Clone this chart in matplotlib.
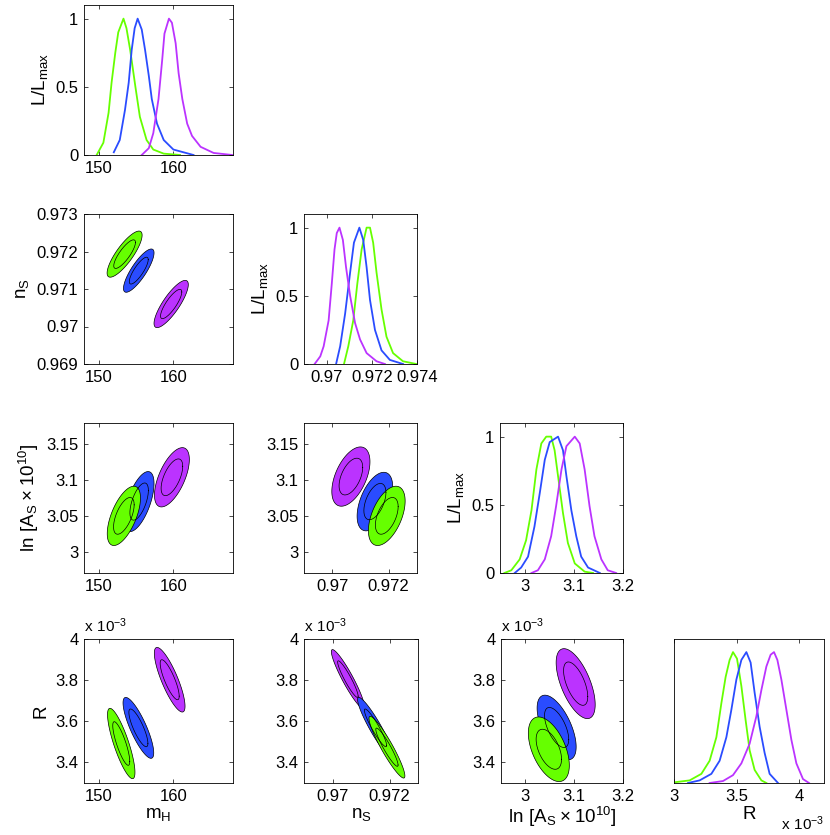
import numpy as np
import matplotlib
matplotlib.use('Agg')
import matplotlib.pyplot as plt
from matplotlib.ticker import FuncFormatter

plt.rcParams['font.family'] = ['Liberation Sans', 'DejaVu Sans']
plt.rcParams['font.size'] = 12
plt.rcParams['axes.labelsize'] = 13.5

# colours of the three models
colors = {'green': '#66ff00', 'blue': '#2a4cff', 'magenta': '#bb33ff'}
draw_order = ['magenta', 'blue', 'green']

# ---- 1D profiles (L/Lmax) ----
mh_x = {
    'green': [149.7, 150.6, 151.3, 151.7, 152.2, 152.6, 153.3, 153.7, 154.2, 154.9, 155.5, 156.4, 157.3, 158.7, 160.9],
    'blue': [152.0, 152.8, 153.5, 154.0, 154.4, 154.8, 155.2, 155.75, 156.2, 156.7, 157.1, 157.8, 158.7, 160.0, 162.7],
    'magenta': [155.75, 156.7, 157.3, 158.0, 158.5, 158.8, 159.4, 159.8, 160.3, 160.7, 161.2, 161.85, 162.5, 163.65, 165.4, 167.9],
}
mh_y = {
    'green': [0, 0.09, 0.31, 0.53, 0.75, 0.90, 1.0, 0.93, 0.77, 0.50, 0.28, 0.11, 0.04, 0.01, 0],
    'blue': [0.02, 0.11, 0.33, 0.53, 0.77, 0.93, 1.0, 0.92, 0.77, 0.58, 0.41, 0.23, 0.11, 0.04, 0],
    'magenta': [0, 0.05, 0.16, 0.41, 0.70, 0.89, 1.0, 0.97, 0.82, 0.60, 0.41, 0.23, 0.14, 0.06, 0.015, 0],
}
ns_x = {
    'magenta': [0.96947, 0.96972, 0.96987, 0.97009, 0.97023, 0.97035, 0.97045, 0.97057, 0.97072, 0.97086,
                0.97104, 0.97126, 0.97148, 0.97177, 0.97221, 0.97258],
    'blue': [0.97042, 0.97060, 0.97082, 0.97104, 0.97121, 0.97145, 0.97162, 0.97177, 0.97192, 0.97214,
             0.97243, 0.97280, 0.97338],
    'green': [0.97077, 0.97096, 0.97118, 0.97136, 0.97155, 0.97177, 0.97192, 0.97206, 0.97221, 0.97243,
              0.97265, 0.97294, 0.97338, 0.97397],
}
ns_y = {
    'magenta': [0, 0.056, 0.13, 0.32, 0.59, 0.84, 0.96, 1, 0.91, 0.71, 0.50, 0.30, 0.18, 0.08, 0.02, 0],
    'blue': [0, 0.13, 0.37, 0.67, 0.89, 1, 0.91, 0.71, 0.47, 0.25, 0.10, 0.03, 0],
    'green': [0, 0.13, 0.32, 0.59, 0.84, 1, 1, 0.89, 0.67, 0.40, 0.20, 0.08, 0.02, 0],
}
as_x = {
    'green': [2.959, 2.973, 2.990, 3.003, 3.014, 3.024, 3.034, 3.044, 3.054, 3.061, 3.068, 3.078, 3.088, 3.102, 3.122, 3.139],
    'blue': [2.980, 2.993, 3.007, 3.020, 3.031, 3.041, 3.051, 3.068, 3.078, 3.085, 3.095, 3.105, 3.115, 3.129, 3.153],
    'magenta': [3.014, 3.027, 3.041, 3.054, 3.064, 3.075, 3.085, 3.102, 3.112, 3.122, 3.132, 3.142, 3.156, 3.169, 3.186],
}
as_y = {
    'green': [0, 0.02, 0.10, 0.24, 0.46, 0.76, 0.95, 1, 1, 0.90, 0.71, 0.44, 0.22, 0.07, 0.01, 0],
    'blue': [0, 0.04, 0.12, 0.34, 0.59, 0.83, 0.96, 1, 0.90, 0.71, 0.46, 0.27, 0.12, 0.04, 0],
    'magenta': [0, 0.02, 0.10, 0.27, 0.49, 0.76, 0.93, 1, 0.95, 0.76, 0.49, 0.27, 0.10, 0.02, 0],
}
# R in units of 1e-3
r_x = {
    'green': [3.000, 3.125, 3.219, 3.285, 3.339, 3.379, 3.413, 3.445, 3.472, 3.504, 3.539, 3.573, 3.605, 3.645, 3.699, 3.739],
    'blue': [3.112, 3.205, 3.299, 3.365, 3.419, 3.459, 3.499, 3.539, 3.579, 3.613, 3.645, 3.685, 3.725, 3.765, 3.832],
    'magenta': [3.285, 3.392, 3.472, 3.539, 3.605, 3.659, 3.699, 3.739, 3.773, 3.800, 3.827, 3.859, 3.899, 3.939,
                3.979, 4.032, 4.080],
}
r_y = {
    'green': [0.005, 0.02, 0.07, 0.17, 0.35, 0.61, 0.81, 0.94, 1, 0.95, 0.74, 0.48, 0.25, 0.10, 0.02, 0],
    'blue': [0, 0.02, 0.07, 0.17, 0.35, 0.56, 0.79, 0.94, 1, 0.92, 0.69, 0.43, 0.23, 0.07, 0],
    'magenta': [0, 0.015, 0.06, 0.15, 0.30, 0.51, 0.71, 0.89, 0.98, 1, 0.94, 0.79, 0.56, 0.33, 0.15, 0.03, 0],
}

# ---- 2D contours: centre x, centre y, outer half-width x, outer half-width y, correlation ----
mh_ns = {'green': (153.45, 0.97193, 2.35, 0.000615, 0.82),
         'blue': (155.35, 0.97149, 2.05, 0.000577, 0.82),
         'magenta': (159.7, 0.97060, 2.3, 0.00063, 0.82)}
mh_as = {'green': (153.35, 3.050, 2.23, 0.0415, 0.6),
         'blue': (155.4, 3.070, 2.0, 0.042, 0.6),
         'magenta': (159.8, 3.104, 2.34, 0.0415, 0.6)}
ns_as = {'green': (0.97193, 3.050, 0.00065, 0.0415, 0.5),
         'blue': (0.97151, 3.070, 0.00063, 0.041, 0.5),
         'magenta': (0.97066, 3.105, 0.000675, 0.0415, 0.5)}
mh_r = {'green': (153.0, 3.492, 1.84, 0.171, -0.82),
        'blue': (155.3, 3.568, 2.06, 0.148, -0.82),
        'magenta': (159.5, 3.802, 2.06, 0.157, -0.82)}
ns_r = {'green': (0.97191, 3.474, 0.00063, 0.150, -0.93),
        'blue': (0.97151, 3.568, 0.00063, 0.148, -0.93),
        'magenta': (0.97054, 3.805, 0.00058, 0.1435, -0.93)}
as_r = {'green': (3.048, 3.464, 0.042, 0.157, -0.5),
        'blue': (3.064, 3.570, 0.040, 0.157, -0.6),
        'magenta': (3.103, 3.783, 0.040, 0.170, -0.6)}
inner_scale = 0.62  # 68% / 95% contour size ratio

W, H = 830, 835
fig = plt.figure(figsize=(W / 100, H / 100), dpi=100)


def new_ax(l, r, t, b):
    ax = fig.add_axes([l / W, 1 - b / H, (r - l) / W, (b - t) / H])
    ax.tick_params(direction='in', top=True, right=True, length=3, width=0.5, pad=4)
    for s in ax.spines.values():
        s.set_linewidth(0.6)
    fmt = FuncFormatter(lambda v, p: '%g' % round(v, 6))
    ax.xaxis.set_major_formatter(fmt)
    ax.yaxis.set_major_formatter(fmt)
    return ax


def plot_1d(ax, xs, ys):
    for c in ['green', 'blue', 'magenta']:
        ax.plot(xs[c], ys[c], color=colors[c], lw=1.3)
    ax.set_ylim(0, 1.1)
    ax.set_yticks([0, 0.5, 1])


def plot_2d(ax, pars):
    t = np.linspace(0, 2 * np.pi, 200)
    for c in draw_order:
        cx, cy, hx, hy, rho = pars[c]
        for k in [1.0, inner_scale]:
            ex = cx + k * hx * np.cos(t)
            ey = cy + k * hy * (rho * np.cos(t) + np.sqrt(1 - rho ** 2) * np.sin(t))
            if k == 1.0:
                ax.fill(ex, ey, facecolor=colors[c], edgecolor='black', lw=0.5)
            else:
                ax.plot(ex, ey, color='black', lw=0.5)


lmax = r'$\mathregular{L/L_{max}}$'
as_label = r'$\mathregular{ln\ [A_S \times 10^{10}]}$'
e3 = r'$\mathregular{x\ 10^{-3}}$'

# row 0
ax = new_ax(84, 233, 5, 155)
plot_1d(ax, mh_x, mh_y)
ax.set_xlim(148, 168)
ax.set_xticks([150, 160])
ax.set_ylabel(lmax)

# row 1
ax = new_ax(84, 233, 214, 364)
plot_2d(ax, mh_ns)
ax.set_xlim(148, 168)
ax.set_xticks([150, 160])
ax.set_ylim(0.969, 0.973)
ax.set_yticks([0.969, 0.970, 0.971, 0.972, 0.973])
ax.set_ylabel(r'$\mathregular{n_S}$')

ax = new_ax(304, 417, 214, 364)
plot_1d(ax, ns_x, ns_y)
ax.set_xlim(0.969, 0.974)
ax.set_xticks([0.970, 0.972, 0.974])
ax.set_ylabel(lmax)

# row 2
ax = new_ax(84, 233, 423, 573)
plot_2d(ax, mh_as)
ax.set_xlim(148, 168)
ax.set_xticks([150, 160])
ax.set_ylim(2.97, 3.18)
ax.set_yticks([3.0, 3.05, 3.1, 3.15])
ax.set_ylabel(as_label)

ax = new_ax(304, 417, 423, 573)
plot_2d(ax, ns_as)
ax.set_xlim(0.969, 0.973)
ax.set_xticks([0.970, 0.972])
ax.set_ylim(2.97, 3.18)
ax.set_yticks([3.0, 3.05, 3.1, 3.15])

ax = new_ax(500, 623, 423, 573)
plot_1d(ax, as_x, as_y)
ax.set_xlim(2.95, 3.2)
ax.set_xticks([3.0, 3.1, 3.2])
ax.set_ylabel(lmax)

# row 3
ax = new_ax(84, 233, 639, 783)
plot_2d(ax, mh_r)
ax.set_xlim(148, 168)
ax.set_xticks([150, 160])
ax.set_ylim(3.3, 4.0)
ax.set_yticks([3.4, 3.6, 3.8, 4.0])
ax.set_ylabel('R')
ax.set_xlabel(r'$\mathregular{m_H}$', labelpad=2)
ax.text(0, 1.03, e3, transform=ax.transAxes, fontsize=11, ha='left', va='bottom')

ax = new_ax(304, 418, 639, 783)
plot_2d(ax, ns_r)
ax.set_xlim(0.969, 0.973)
ax.set_xticks([0.970, 0.972])
ax.set_ylim(3.3, 4.0)
ax.set_yticks([3.4, 3.6, 3.8, 4.0])
ax.set_xlabel(r'$\mathregular{n_S}$', labelpad=2)
ax.text(0, 1.03, e3, transform=ax.transAxes, fontsize=11, ha='left', va='bottom')

ax = new_ax(501, 623, 639, 783)
plot_2d(ax, as_r)
ax.set_xlim(2.95, 3.2)
ax.set_xticks([3.0, 3.1, 3.2])
ax.set_ylim(3.3, 4.0)
ax.set_yticks([3.4, 3.6, 3.8, 4.0])
ax.set_xlabel(as_label, labelpad=1)
ax.text(0, 1.03, e3, transform=ax.transAxes, fontsize=11, ha='left', va='bottom')

ax = new_ax(674, 824, 639, 783)
plot_1d(ax, r_x, r_y)
ax.set_xlim(3.0, 4.2)
ax.set_xticks([3.0, 3.5, 4.0])
ax.set_yticks([])
ax.set_xlabel('R', labelpad=2)
ax.text(1.0, -0.22, e3, transform=ax.transAxes, fontsize=11, ha='right', va='top')

fig.savefig('out.png', dpi=100)
